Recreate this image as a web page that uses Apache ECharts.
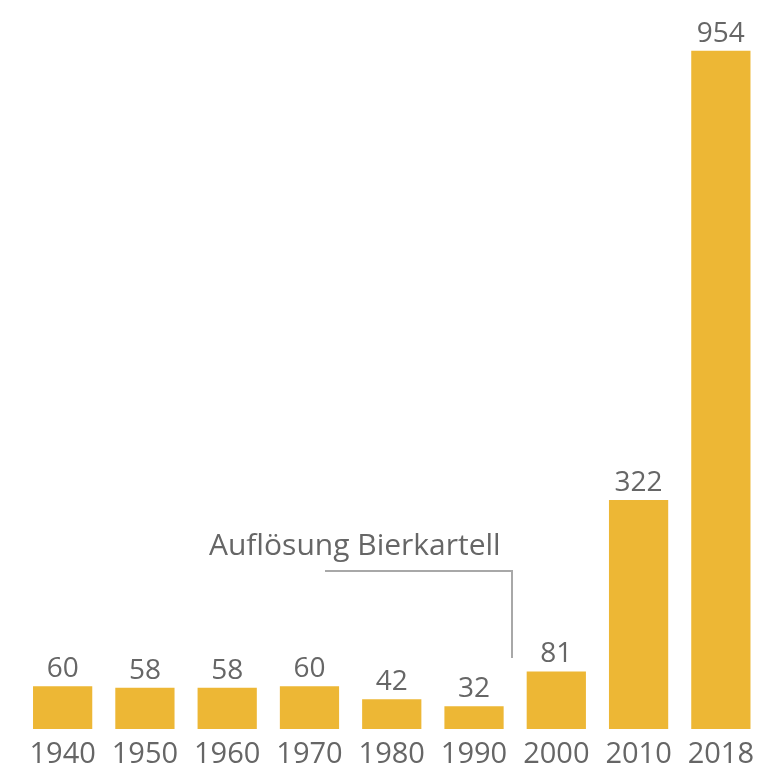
<!DOCTYPE html>
<html><head><meta charset="utf-8">
<script src="https://cdn.jsdelivr.net/npm/echarts@6/dist/echarts.min.js"></script>
<style>html,body{margin:0;padding:0;background:#fff}#c{width:762px;height:770px}</style>
</head><body><div id="c"></div>
<script>
const years = ['1940','1950','1960','1970','1980','1990','2000','2010','2018'];
const values = [60, 58, 58, 60, 42, 32, 81, 322, 954];
const annotationText = 'Auflösung Bierkartell';

const chart = echarts.init(document.getElementById('c'));
const font = '"Open Sans", sans-serif';
chart.setOption({
  animation: false,
  grid: { left: 21.5, right: -6.5, top: 18, bottom: 41 },
  xAxis: {
    type: 'category', data: years,
    axisLine: { show: false }, axisTick: { show: false },
    axisLabel: { interval: 0, hideOverlap: false, color: '#666666', fontSize: 29, fontFamily: font, margin: 11 }
  },
  yAxis: { type: 'value', min: 0, max: 1000, show: false, splitLine: { show: false } },
  series: [{
    type: 'bar', data: values, barCategoryGap: '28%',
    itemStyle: { color: '#EDB735' },
    label: { show: true, position: 'top', distance: 3, color: '#666666', fontSize: 28, fontFamily: font }
  }],
  graphic: [
    { type: 'text', left: 209, top: 531, style: { text: annotationText, fill: '#666666', font: '30px ' + font } },
    { type: 'polyline', shape: { points: [[325, 571], [512, 571], [512, 658]] }, style: { stroke: '#a8a8a8', lineWidth: 2, fill: null } }
  ]
});
</script></body></html>
